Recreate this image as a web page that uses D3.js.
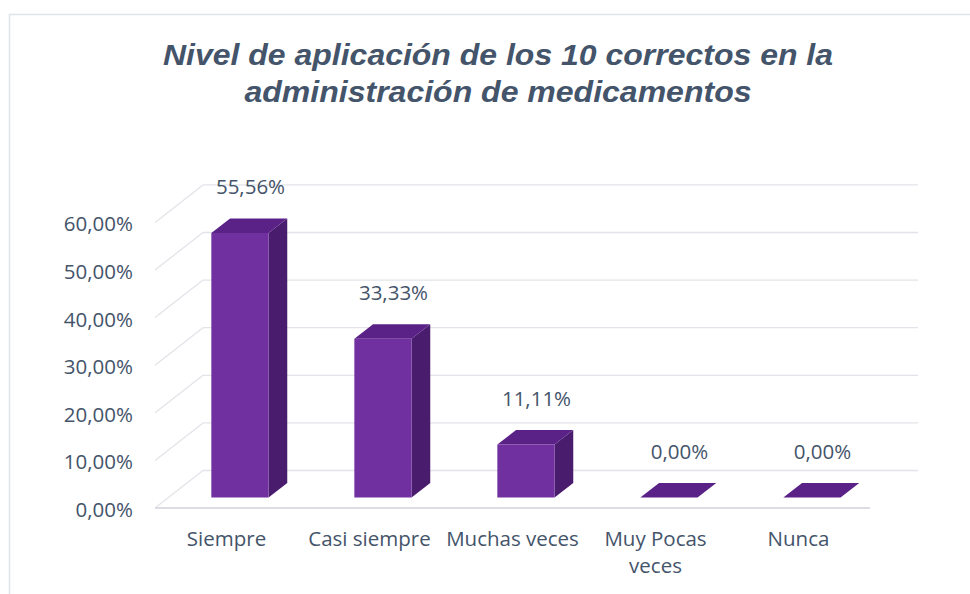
<!DOCTYPE html>
<meta charset="utf-8">
<style>
  body { margin: 0; background: #fff; }
  text { font-family: "Open Sans", Lato, sans-serif; fill: #44546A; }
</style>
<body>
<svg width="970" height="594"></svg>
</body>
<script src="https://cdn.jsdelivr.net/npm/d3@7"></script>
<script>

var categories = ["Siempre", "Casi siempre", "Muchas veces", "Muy Pocas veces", "Nunca"];
var values = [0.5556, 0.3333, 0.1111, 0, 0];
var yTicks = [0, 0.1, 0.2, 0.3, 0.4, 0.5, 0.6];
var titleLines = ["Nivel de aplicación de los 10 correctos en la", "administración de medicamentos"];

var svg = d3.select("svg"),
    width = 970,
    height = 594;

// 3d box: front plane + depth vector
var depth = {dx: 48, dy: -37.5},
    zFront = 0.28,
    zBack = 0.67;

var x = d3.scaleBand()
    .domain(categories)
    .range([155, 870])
    .paddingInner(0.6)
    .paddingOuter(0.3);

var y = d3.scaleLinear()
    .domain([0, 0.6])
    .range([508, 222.4]);

var pct = v => d3.format(".2f")(v * 100).replace(".", ",") + "%";

// chart area border (runs off the picture on the right and bottom)
svg.append("rect")
    .attr("x", 9.5).attr("y", 14.5)
    .attr("width", width + 20).attr("height", height + 20)
    .attr("fill", "none")
    .attr("stroke", "#dfe3e8")
    .attr("stroke-width", 1.5);

// title, stretched a little like the original
var titleWidths = [670, 507];
svg.append("g").selectAll("text")
  .data(titleLines)
  .join("text")
    .attr("x", 498)
    .attr("y", (d, i) => 65 + i * 37)
    .attr("text-anchor", "middle")
    .attr("textLength", (d, i) => titleWidths[i])
    .attr("lengthAdjust", "spacingAndGlyphs")
    .style("font-family", "'Liberation Sans', Arial, sans-serif")
    .style("font-weight", "bold")
    .style("font-style", "italic")
    .style("font-size", "30px")
    .style("fill", "#44546A")
    .text(d => d);

var x0 = x.range()[0], x1 = x.range()[1];

// back wall + left wall gridlines
var grid = svg.append("g")
    .attr("stroke", "#e3e4e9")
    .attr("stroke-width", 1.3)
    .attr("fill", "none");

grid.selectAll(".back")
  .data(yTicks)
  .join("line")
    .attr("x1", x0 + depth.dx).attr("x2", x1 + depth.dx)
    .attr("y1", d => y(d) + depth.dy).attr("y2", d => y(d) + depth.dy);

grid.selectAll(".side")
  .data(yTicks)
  .join("line")
    .attr("x1", x0).attr("x2", x0 + depth.dx)
    .attr("y1", d => y(d)).attr("y2", d => y(d) + depth.dy);

// floor front edge
svg.append("line")
    .attr("x1", x0).attr("x2", x1)
    .attr("y1", y(0)).attr("y2", y(0))
    .attr("stroke", "#dcdde3")
    .attr("stroke-width", 2);

// y axis labels
svg.append("g").selectAll("text")
  .data(yTicks)
  .join("text")
    .attr("x", 133)
    .attr("y", d => y(d) + 9)
    .attr("text-anchor", "end")
    .style("font-size", "20.5px")
    .text(pct);

// bars
var bars = svg.append("g").selectAll("g")
  .data(categories.map((c, i) => ({cat: c, v: values[i]})))
  .join("g");

function pt(xx, v, z) {
  return [xx + z * depth.dx, y(v) + z * depth.dy];
}

bars.append("path")
    .attr("fill", "#4a1c6e")
    .attr("d", d => {
      var r = x(d.cat) + x.bandwidth();
      return "M" + [pt(r, 0, zFront), pt(r, 0, zBack), pt(r, d.v, zBack), pt(r, d.v, zFront)].join("L") + "Z";
    });

bars.append("path")
    .attr("fill", "#5a2187")
    .attr("d", d => {
      var l = x(d.cat), r = l + x.bandwidth();
      return "M" + [pt(l, d.v, zFront), pt(l, d.v, zBack), pt(r, d.v, zBack), pt(r, d.v, zFront)].join("L") + "Z";
    });

bars.append("path")
    .attr("fill", "#7030a0")
    .attr("d", d => {
      var l = x(d.cat), r = l + x.bandwidth();
      return "M" + [pt(l, 0, zFront), pt(l, d.v, zFront), pt(r, d.v, zFront), pt(r, 0, zFront)].join("L") + "Z";
    });

// value labels above the bar tops
bars.append("text")
    .attr("x", d => pt(x(d.cat) + x.bandwidth() / 2, d.v, 0.5)[0])
    .attr("y", d => pt(0, d.v, zBack)[1] - 24)
    .attr("text-anchor", "middle")
    .style("font-size", "20.5px")
    .text(d => pct(d.v));

// category labels, wrapped to the band step
var catText = svg.append("g").selectAll("text")
  .data(categories)
  .join("text")
    .attr("x", d => x(d) + x.bandwidth() / 2)
    .attr("y", 546)
    .attr("text-anchor", "middle")
    .style("font-size", "20.5px");

catText.each(function(d) {
  var t = d3.select(this), words = d.split(" "), line = [], lines = [];
  words.forEach(w => {
    t.text(line.concat(w).join(" "));
    if (this.getComputedTextLength() > x.step() && line.length) {
      lines.push(line.join(" "));
      line = [w];
    } else line.push(w);
  });
  lines.push(line.join(" "));
  t.text(null);
  lines.forEach((l, i) => {
    t.append("tspan")
      .attr("x", x(d) + x.bandwidth() / 2)
      .attr("dy", i ? 27 : 0)
      .text(l);
  });
});

</script>
